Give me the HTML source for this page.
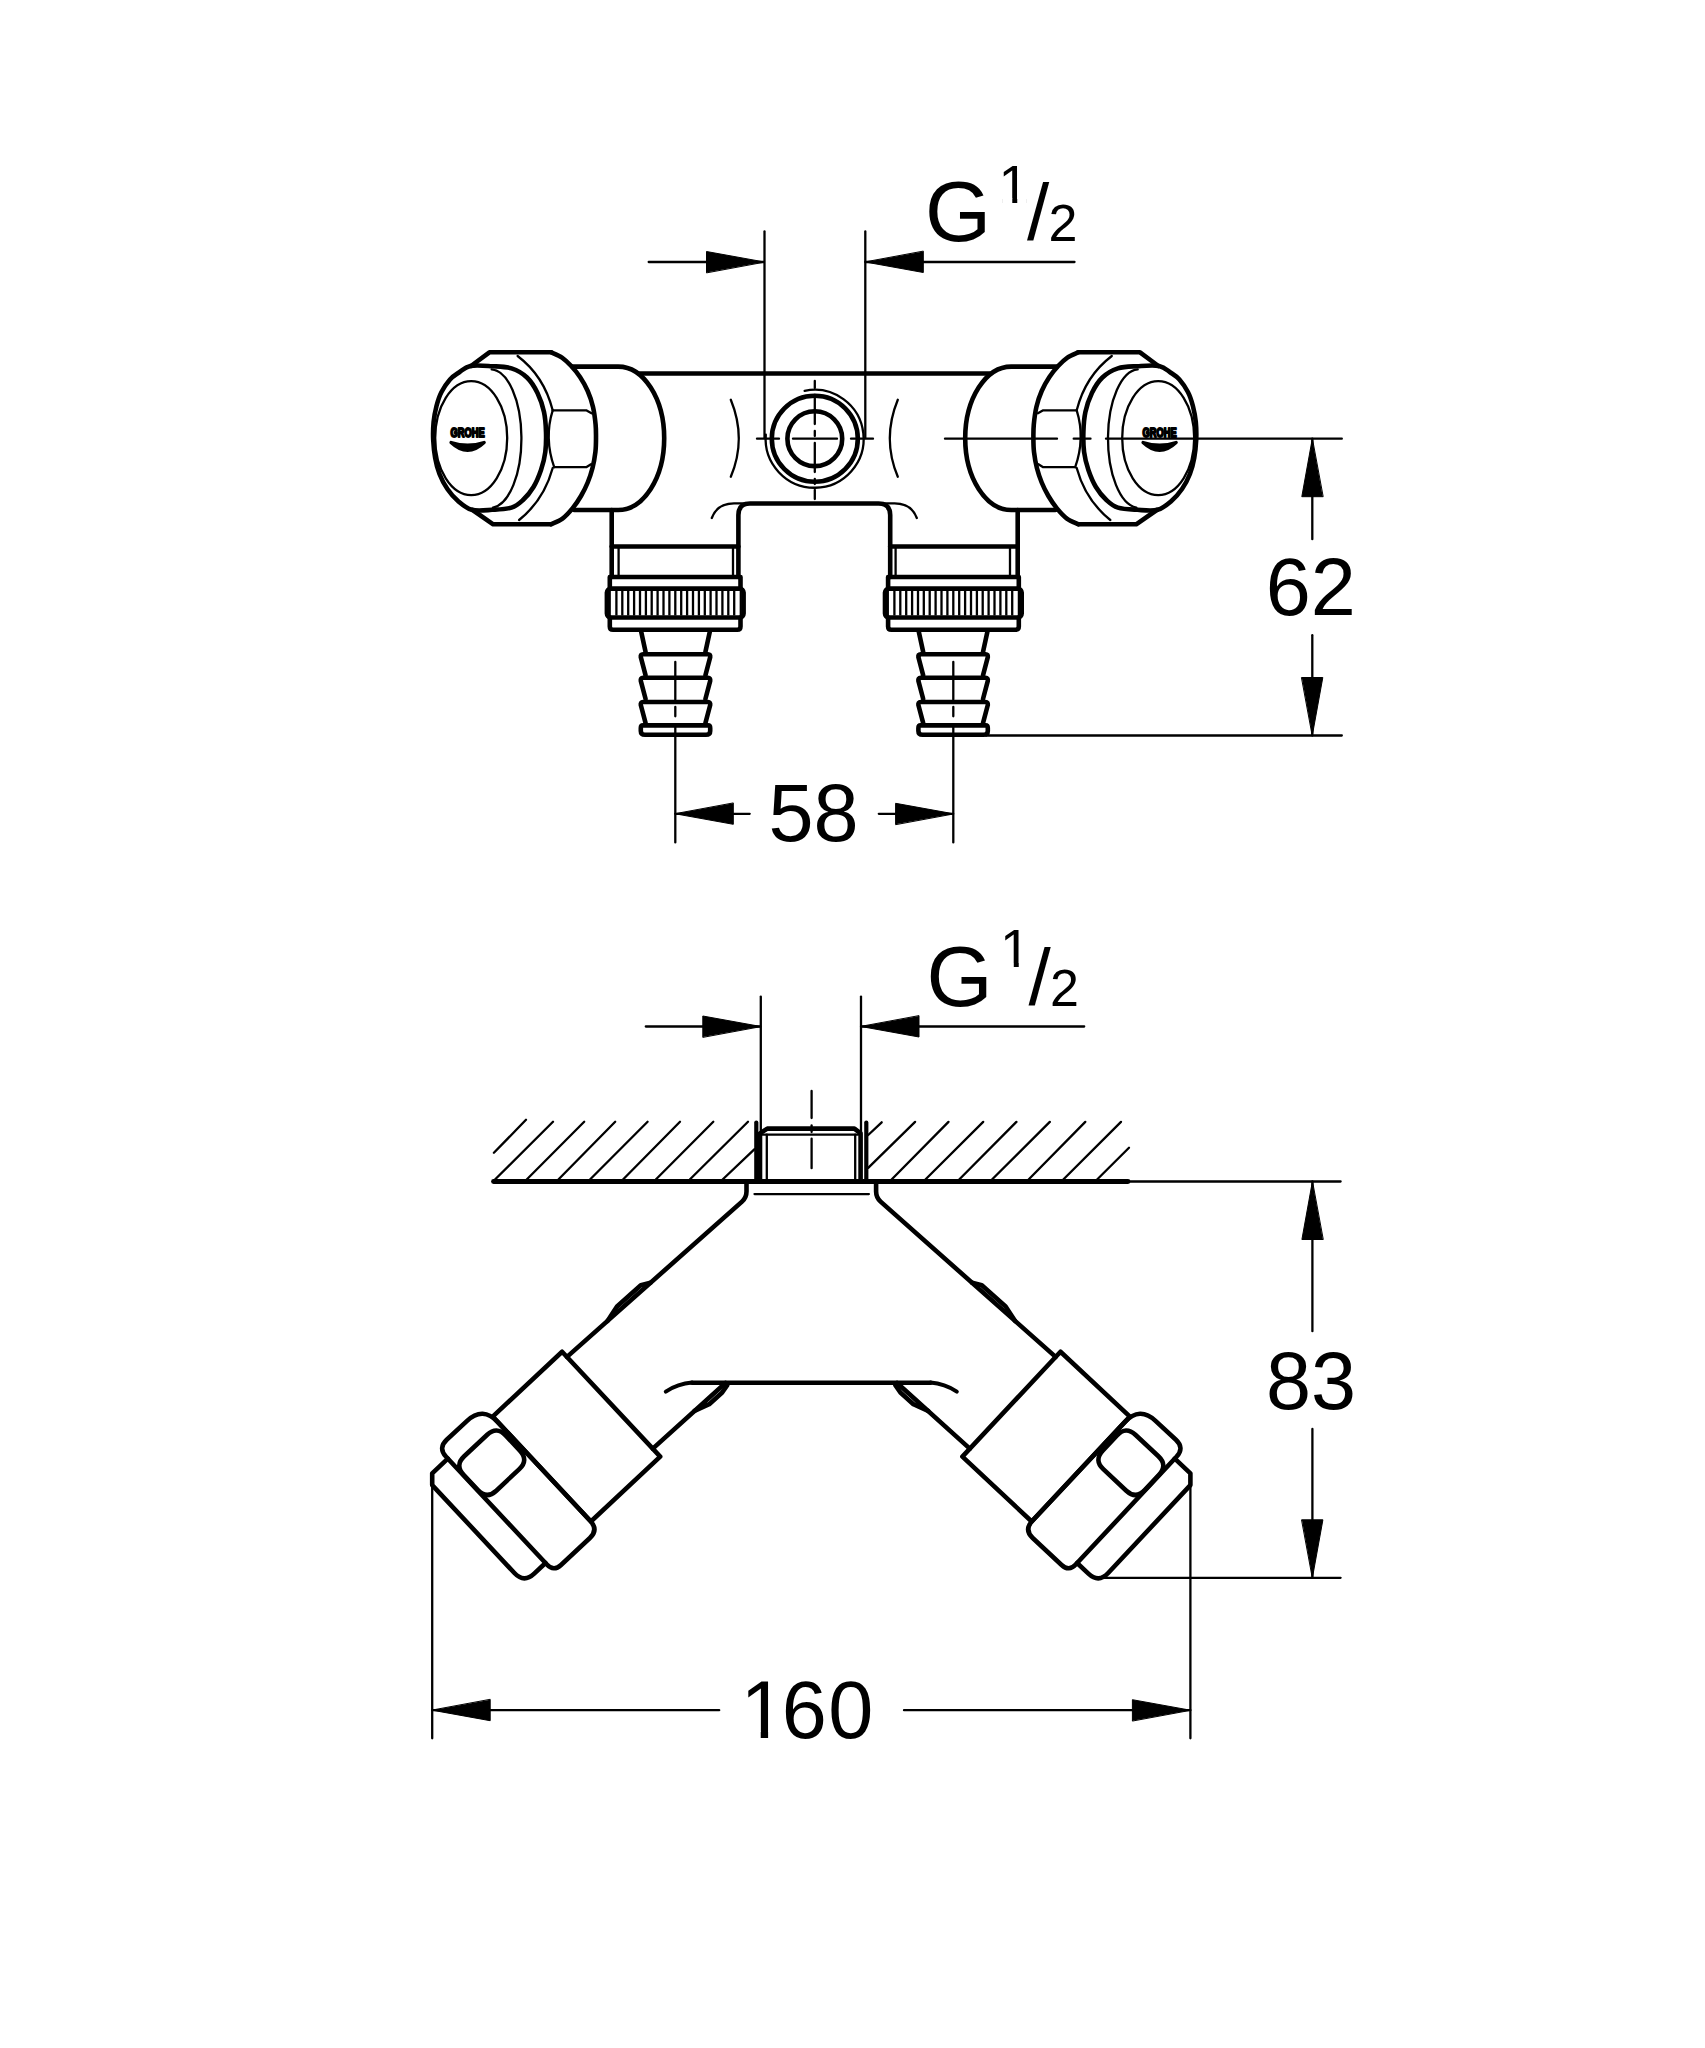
<!DOCTYPE html>
<html><head><meta charset="utf-8"><title>Drawing</title>
<style>
html,body{margin:0;padding:0;background:#fff;}
svg{display:block;}
svg *{vector-effect:none;}
text{font-family:"Liberation Sans",sans-serif;}
</style></head><body>
<svg width="1705" height="2048" viewBox="0 0 1705 2048" fill="none" stroke="#000" stroke-linecap="round" stroke-linejoin="round">
<rect x="0" y="0" width="1705" height="2048" fill="#fff" stroke="none"/>
<g id="tl">
<path d="M470.3 366.0 C475.8 364.9 485.1 365.8 492.0 366.2 C498.9 366.6 505.7 366.5 511.5 368.4 C517.3 370.3 522.7 373.4 527.0 377.5 C531.3 381.6 534.7 387.2 537.5 393.0 C540.3 398.8 542.6 405.5 544.0 412.0 C545.4 418.5 545.8 425.3 546.0 432.0 C546.2 438.7 546.1 445.7 545.3 452.0 C544.5 458.3 543.0 464.2 541.0 470.0 C539.0 475.8 536.5 482.0 533.5 487.0 C530.5 492.0 526.7 496.6 523.0 500.0 C519.3 503.4 516.7 506.0 511.5 507.6 C506.3 509.2 498.6 509.4 492.0 509.8 C485.4 510.2 477.5 511.3 471.8 509.8 C466.1 508.3 462.1 504.5 458.0 501.0 C453.9 497.5 450.5 493.5 447.4 489.0 C444.3 484.5 441.5 479.2 439.5 474.0 C437.5 468.8 436.2 463.7 435.2 458.0 C434.1 452.3 433.5 446.0 433.2 440.0 C432.9 434.0 433.1 427.7 433.6 422.0 C434.2 416.3 435.2 411.0 436.5 406.0 C437.8 401.0 439.2 396.4 441.5 392.0 C443.8 387.6 447.1 382.8 450.0 379.5 C452.9 376.2 455.6 374.8 459.0 372.5 C462.4 370.2 464.8 367.1 470.3 366.0Z" stroke-width="4.6" />
<ellipse cx="471.2" cy="438.1" rx="36" ry="57" stroke-width="2.3"/>
<path d="M491.7 369.3 A31 69.3 0 0 1 493 507.6" stroke-width="2.3" />
<path d="M471 366 L489.4 352.3 H551.1" stroke-width="4.6" />
<path d="M551.1 352.3 C552.9 353.2 558.7 355.4 562.0 357.6 C565.3 359.9 568.0 362.6 571.0 365.8 C574.0 369.0 577.2 372.8 580.0 377.0 C582.8 381.2 585.5 386.0 587.7 391.0 C589.9 396.0 591.7 401.4 593.0 407.0 C594.3 412.6 595.1 419.3 595.6 424.5 C596.1 429.7 596.0 433.4 596.0 438.0 C596.0 442.6 596.0 447.0 595.4 452.0 C594.8 457.0 593.8 462.9 592.5 468.0 C591.2 473.1 589.6 477.8 587.7 482.5 C585.8 487.2 583.5 491.7 581.0 496.0 C578.5 500.3 575.6 504.6 572.5 508.4 C569.4 512.2 566.1 516.0 562.5 518.6 C558.9 521.2 553.0 523.3 551.1 524.3" stroke-width="4.6" />
<path d="M551.1 524.3 H493.2 L472.6 510" stroke-width="4.6" />
<path d="M517.6 356 Q544 376 552.7 410.3" stroke-width="2.3" />
<path d="M552.7 468 Q544 500 519.1 520" stroke-width="2.3" />
<path d="M552.7 410.3 H586.2 L591.5 413.3" stroke-width="2.3" />
<path d="M554.2 467.2 H586.2 L591 464.2" stroke-width="2.3" />
<path d="M552.7 410.3 Q544 438 554.2 467.2" stroke-width="2.3" />
<path d="M572.5 366.6 H618.2 A46 71.7 0 0 1 618.2 510 H574" stroke-width="4.6" />
<path d="M611.7 510 V577" stroke-width="4.6" />
</g>
<use href="#tl" transform="translate(1629.4,0) scale(-1,1)"/>
<g id="to">
<line x1="611.7" y1="546.5" x2="738.4" y2="546.5" stroke-width="4.6" />
<line x1="618.6" y1="546.5" x2="618.6" y2="577.0" stroke-width="2.3" />
<line x1="733.0" y1="546.5" x2="733.0" y2="577.0" stroke-width="2.3" />
<path d="M609.8 588.5 V577 H740.5 V588.5" stroke-width="4.6" />
<rect x="606.9" y="588.6" width="136.7" height="28.9" rx="4" stroke-width="4.6"/>
<line x1="609.7" y1="590.0" x2="609.7" y2="616.0" stroke-width="2.3" stroke-linecap="butt"/>
<line x1="740.8" y1="590.0" x2="740.8" y2="616.0" stroke-width="2.3" stroke-linecap="butt"/>
<line x1="616.4" y1="591.0" x2="616.4" y2="615.5" stroke-width="2.3" stroke-linecap="butt"/>
<line x1="622.3" y1="591.0" x2="622.3" y2="615.5" stroke-width="2.3" stroke-linecap="butt"/>
<line x1="628.2" y1="591.0" x2="628.2" y2="615.5" stroke-width="2.3" stroke-linecap="butt"/>
<line x1="634.1" y1="591.0" x2="634.1" y2="615.5" stroke-width="2.3" stroke-linecap="butt"/>
<line x1="640.0" y1="591.0" x2="640.0" y2="615.5" stroke-width="2.3" stroke-linecap="butt"/>
<line x1="645.9" y1="591.0" x2="645.9" y2="615.5" stroke-width="2.3" stroke-linecap="butt"/>
<line x1="651.7" y1="591.0" x2="651.7" y2="615.5" stroke-width="2.3" stroke-linecap="butt"/>
<line x1="657.6" y1="591.0" x2="657.6" y2="615.5" stroke-width="2.3" stroke-linecap="butt"/>
<line x1="663.5" y1="591.0" x2="663.5" y2="615.5" stroke-width="2.3" stroke-linecap="butt"/>
<line x1="669.4" y1="591.0" x2="669.4" y2="615.5" stroke-width="2.3" stroke-linecap="butt"/>
<line x1="675.3" y1="591.0" x2="675.3" y2="615.5" stroke-width="2.3" stroke-linecap="butt"/>
<line x1="681.2" y1="591.0" x2="681.2" y2="615.5" stroke-width="2.3" stroke-linecap="butt"/>
<line x1="687.1" y1="591.0" x2="687.1" y2="615.5" stroke-width="2.3" stroke-linecap="butt"/>
<line x1="693.0" y1="591.0" x2="693.0" y2="615.5" stroke-width="2.3" stroke-linecap="butt"/>
<line x1="698.9" y1="591.0" x2="698.9" y2="615.5" stroke-width="2.3" stroke-linecap="butt"/>
<line x1="704.8" y1="591.0" x2="704.8" y2="615.5" stroke-width="2.3" stroke-linecap="butt"/>
<line x1="710.6" y1="591.0" x2="710.6" y2="615.5" stroke-width="2.3" stroke-linecap="butt"/>
<line x1="716.5" y1="591.0" x2="716.5" y2="615.5" stroke-width="2.3" stroke-linecap="butt"/>
<line x1="722.4" y1="591.0" x2="722.4" y2="615.5" stroke-width="2.3" stroke-linecap="butt"/>
<line x1="728.3" y1="591.0" x2="728.3" y2="615.5" stroke-width="2.3" stroke-linecap="butt"/>
<line x1="734.2" y1="591.0" x2="734.2" y2="615.5" stroke-width="2.3" stroke-linecap="butt"/>
<path d="M609.8 617.5 V626.5 Q609.8 629.7 613 629.7 H737.3 Q740.5 629.7 740.5 626.5 V617.5" stroke-width="4.6" />
<path d="M641.2 631.8 L645.6 652" stroke-width="4.6" />
<path d="M709.8 631.8 L705.4 652" stroke-width="4.6" />
<path d="M645.6 675.4 L640.8 657.2 Q640.4 654.2 643 654.2 H708 Q710.6 654.2 710.2 657.2 L705.4 675.4" stroke-width="4.6" />
<path d="M645.6 699.0 L640.8 680.8 Q640.4 677.8 643 677.8 H708 Q710.6 677.8 710.2 680.8 L705.4 699.0" stroke-width="4.6" />
<path d="M645.6 723.2 L640.8 705.0 Q640.4 702 643 702 H708 Q710.6 702 710.2 705.0 L705.4 723.2" stroke-width="4.6" />
<path d="M643 725.4 H708 Q710.2 725.4 710.2 728 V731 Q710.2 734.8 706 734.8 H645 Q640.8 734.8 640.8 731 V728 Q640.8 725.4 643 725.4Z" stroke-width="4.6" />
<line x1="675.3" y1="662.0" x2="675.3" y2="699.4" stroke-width="2.3" />
<line x1="675.3" y1="707.0" x2="675.3" y2="716.3" stroke-width="2.3" />
<line x1="675.3" y1="726.0" x2="675.3" y2="842.4" stroke-width="2.3" />
<path d="M730.8 399.7 Q746.8 438.7 730.8 476.7" stroke-width="2.3" />
<path d="M711.8 518 Q717 503.6 734 503.4 L751 503.4" stroke-width="2.3" />
</g>
<use href="#to" transform="translate(1628.6,0) scale(-1,1)"/>
<line x1="639.6" y1="373.5" x2="989.8" y2="373.5" stroke-width="4.6" />
<path d="M738.4 577 V515 Q738.4 503.5 750 503.5 H878.6 Q890.2 503.5 890.2 515 V577" stroke-width="4.6" />
<circle cx="814.8" cy="438.7" r="43" stroke-width="4.6"/>
<circle cx="814.8" cy="438.7" r="27.4" stroke-width="4.6"/>
<path d="M804.6 390.8 A49 49 0 1 1 765.8 434.7" stroke-width="2.3" />
<line x1="757.0" y1="438.7" x2="779.0" y2="438.7" stroke-width="2.3" />
<line x1="793.0" y1="438.7" x2="837.0" y2="438.7" stroke-width="2.3" />
<line x1="851.0" y1="438.7" x2="873.0" y2="438.7" stroke-width="2.3" />
<line x1="814.8" y1="381.0" x2="814.8" y2="388.0" stroke-width="2.3" />
<line x1="814.8" y1="395.0" x2="814.8" y2="424.0" stroke-width="2.3" />
<line x1="814.8" y1="431.0" x2="814.8" y2="436.0" stroke-width="2.3" />
<line x1="814.8" y1="443.0" x2="814.8" y2="472.0" stroke-width="2.3" />
<line x1="814.8" y1="479.0" x2="814.8" y2="484.0" stroke-width="2.3" />
<line x1="814.8" y1="490.0" x2="814.8" y2="499.0" stroke-width="2.3" />
<line x1="764.5" y1="231.5" x2="764.5" y2="438.0" stroke-width="2.3" />
<line x1="865.3" y1="231.5" x2="865.3" y2="438.0" stroke-width="2.3" />
<line x1="648.7" y1="262.0" x2="764.0" y2="262.0" stroke-width="2.3" />
<polygon points="764.5,262.0 706.5,251.5 706.5,272.5" fill="#000" stroke="#000" stroke-width="1"/>
<line x1="865.3" y1="262.0" x2="1074.5" y2="262.0" stroke-width="2.3" />
<polygon points="865.3,262.0 923.3,272.5 923.3,251.5" fill="#000" stroke="#000" stroke-width="1"/>
<clipPath id="cg1"><rect x="900" y="150.00" width="200" height="48.13"/><rect x="1026.60" y="150.00" width="80" height="110"/><rect x="900" y="150.00" width="102.2" height="110"/><rect x="1012.28" y="197.15" width="4.96" height="6.00"/></clipPath>
<text stroke="none" fill="#000" clip-path="url(#cg1)"><tspan x="925.0" y="240.8" font-size="85">G </tspan><tspan x="998.6" y="202.6" font-size="54.5">1</tspan><tspan x="1027.0" y="240.4" font-size="80">/</tspan><tspan x="1048.5" y="241.4" font-size="52">2</tspan></text>
<line x1="945.0" y1="438.7" x2="1057.0" y2="438.7" stroke-width="2.3" />
<line x1="1073.7" y1="438.7" x2="1090.5" y2="438.7" stroke-width="2.3" />
<line x1="1106.0" y1="438.7" x2="1341.8" y2="438.7" stroke-width="2.3" />
<line x1="1312.3" y1="438.7" x2="1312.3" y2="539.2" stroke-width="2.3" />
<polygon points="1312.3,438.7 1301.8,496.7 1322.8,496.7" fill="#000" stroke="#000" stroke-width="1"/>
<line x1="1312.3" y1="635.2" x2="1312.3" y2="735.5" stroke-width="2.3" />
<polygon points="1312.3,735.5 1322.8,677.5 1301.8,677.5" fill="#000" stroke="#000" stroke-width="1"/>
<line x1="986.0" y1="735.5" x2="1341.8" y2="735.5" stroke-width="2.3" />
<text x="1310.7" y="615" font-size="81" text-anchor="middle" stroke="none" fill="#000">62</text>
<line x1="675.3" y1="813.8" x2="749.7" y2="813.8" stroke-width="2.3" />
<polygon points="675.3,813.8 733.3,824.3 733.3,803.3" fill="#000" stroke="#000" stroke-width="1"/>
<line x1="878.8" y1="813.8" x2="953.2" y2="813.8" stroke-width="2.3" />
<polygon points="953.6,813.8 895.6,803.3 895.6,824.3" fill="#000" stroke="#000" stroke-width="1"/>
<text x="813.5" y="841.4" font-size="81" text-anchor="middle" stroke="none" fill="#000">58</text>
<text x="467.6" y="437.2" font-size="12" font-weight="bold" text-anchor="middle" stroke="#000" stroke-width="1.8" fill="#000" textLength="34" lengthAdjust="spacingAndGlyphs">GROHE</text>
<path d="M451.1 442.5 Q467.6 458 484.1 442.5 Q467.6 448 451.1 442.5Z" fill="#000" stroke="#000" stroke-width="3.4"/>
<text x="1159.6" y="437.2" font-size="12" font-weight="bold" text-anchor="middle" stroke="#000" stroke-width="1.8" fill="#000" textLength="34" lengthAdjust="spacingAndGlyphs">GROHE</text>
<path d="M1143.1 442.5 Q1159.6 458 1176.1 442.5 Q1159.6 448 1143.1 442.5Z" fill="#000" stroke="#000" stroke-width="3.4"/>
<g id="bl">
<path d="M562.1 1351.7 L492.7 1416.6 Q492.7 1416.6 492.7 1416.6 L590.9 1521.5 Q590.9 1521.5 590.9 1521.5 L660.2 1456.6 Q660.2 1456.6 660.2 1456.6 L562.1 1351.7 Q562.1 1351.7 562.1 1351.7Z" stroke-width="4.6" />
<path d="M466.8 1421.1 L446.7 1439.8 Q437.9 1448.0 446.1 1456.8 L546.9 1564.5 Q553.7 1571.8 561.0 1565.0 L589.9 1538.0 Q598.6 1529.8 590.4 1521.0 L497.9 1422.1 Q482.8 1406.0 466.8 1421.1Z" stroke-width="4.6" />
<path d="M487.2 1434.8 L464.2 1456.3 Q454.7 1465.2 463.6 1474.7 L477.9 1490.1 Q486.8 1499.5 496.3 1490.7 L519.3 1469.1 Q528.8 1460.3 519.9 1450.8 L505.6 1435.4 Q496.7 1425.9 487.2 1434.8Z" stroke-width="4.6" />
<path d="M447.8 1458.6 L432.2 1473.3 L432.2 1485.1 L514.4 1573.0 Q524.0 1583.2 534.2 1573.6 L545.5 1563.0" stroke-width="4.6" />
<path d="M746.5 1181.5 V1191.5 Q746.5 1197.5 742 1201.6 L567 1356.9" stroke-width="4.6" />
<path d="M725.5 1383 L652.8 1448.6" stroke-width="4.6" />
<path d="M692 1382.6 Q678 1383.6 665.8 1391.7" stroke-width="4.0" />
<path d="M607.5 1321 L617 1306.5 L640.8 1285.3 L650.5 1282.8" stroke-width="4.6" />
<path d="M694.5 1410.9 L709.2 1404.2 L722.2 1392.5 L727.4 1385" stroke-width="4.6" />
<line x1="432.2" y1="1474.7" x2="432.2" y2="1738.3" stroke-width="2.3" />
<line x1="756.3" y1="1122.5" x2="756.3" y2="1181.0" stroke-width="4.2" />
</g>
<use href="#bl" transform="translate(1622.6,0) scale(-1,1)"/>
<line x1="493.5" y1="1181.5" x2="1128.0" y2="1181.5" stroke-width="4.8" />
<line x1="1128.0" y1="1181.5" x2="1340.6" y2="1181.5" stroke-width="2.3" />
<line x1="493.9" y1="1152.8" x2="526.0" y2="1119.8" stroke-width="2.3" />
<line x1="495.0" y1="1179.5" x2="553.0" y2="1121.8" stroke-width="2.3" />
<line x1="526.7" y1="1179.5" x2="584.2" y2="1121.8" stroke-width="2.3" />
<line x1="558.4" y1="1179.5" x2="615.2" y2="1121.8" stroke-width="2.3" />
<line x1="590.0" y1="1179.5" x2="647.6" y2="1121.8" stroke-width="2.3" />
<line x1="623.0" y1="1179.5" x2="680.0" y2="1121.8" stroke-width="2.3" />
<line x1="655.8" y1="1179.5" x2="713.3" y2="1121.8" stroke-width="2.3" />
<line x1="689.8" y1="1179.5" x2="748.0" y2="1121.8" stroke-width="2.3" />
<line x1="722.6" y1="1179.5" x2="754.3" y2="1149.3" stroke-width="2.3" />
<line x1="868.2" y1="1135.0" x2="881.7" y2="1122.3" stroke-width="2.3" />
<line x1="868.2" y1="1167.9" x2="915.1" y2="1121.9" stroke-width="2.3" />
<line x1="891.6" y1="1179.5" x2="948.5" y2="1121.9" stroke-width="2.3" />
<line x1="925.4" y1="1179.5" x2="983.2" y2="1121.9" stroke-width="2.3" />
<line x1="959.2" y1="1179.5" x2="1016.4" y2="1121.9" stroke-width="2.3" />
<line x1="992.0" y1="1179.5" x2="1049.8" y2="1121.9" stroke-width="2.3" />
<line x1="1028.6" y1="1179.5" x2="1085.3" y2="1121.9" stroke-width="2.3" />
<line x1="1063.3" y1="1179.5" x2="1121.0" y2="1121.9" stroke-width="2.3" />
<line x1="1097.1" y1="1179.5" x2="1129.0" y2="1147.8" stroke-width="2.3" />
<path d="M760 1181 V1133.4 L767.3 1128.6 H854.4 L860.6 1133.4 V1181" stroke-width="4.6" />
<line x1="762.0" y1="1134.7" x2="858.0" y2="1134.7" stroke-width="2.3" />
<line x1="766.8" y1="1134.7" x2="766.8" y2="1181.0" stroke-width="2.3" />
<line x1="855.2" y1="1134.7" x2="855.2" y2="1181.0" stroke-width="2.3" />
<line x1="754.5" y1="1194.1" x2="868.9" y2="1194.1" stroke-width="2.3" />
<line x1="811.6" y1="1091.0" x2="811.6" y2="1118.0" stroke-width="2.3" />
<line x1="811.6" y1="1125.5" x2="811.6" y2="1132.0" stroke-width="2.3" />
<line x1="811.6" y1="1138.7" x2="811.6" y2="1168.2" stroke-width="2.3" />
<line x1="692.0" y1="1382.7" x2="930.6" y2="1382.7" stroke-width="4.6" />
<line x1="760.8" y1="996.6" x2="760.8" y2="1133.0" stroke-width="2.3" />
<line x1="861.0" y1="996.6" x2="861.0" y2="1133.0" stroke-width="2.3" />
<line x1="645.8" y1="1026.5" x2="760.0" y2="1026.5" stroke-width="2.3" />
<polygon points="760.8,1026.5 702.8,1016.0 702.8,1037.0" fill="#000" stroke="#000" stroke-width="1"/>
<line x1="861.0" y1="1026.5" x2="1084.2" y2="1026.5" stroke-width="2.3" />
<polygon points="861.0,1026.5 919.0,1037.0 919.0,1016.0" fill="#000" stroke="#000" stroke-width="1"/>
<clipPath id="cg2"><rect x="901.5" y="914.80" width="200" height="48.13"/><rect x="1028.10" y="914.80" width="80" height="110"/><rect x="901.5" y="914.80" width="102.2" height="110"/><rect x="1013.78" y="961.95" width="4.96" height="6.00"/></clipPath>
<text stroke="none" fill="#000" clip-path="url(#cg2)"><tspan x="926.5" y="1005.6" font-size="85">G </tspan><tspan x="1000.1" y="967.4" font-size="54.5">1</tspan><tspan x="1028.5" y="1005.2" font-size="80">/</tspan><tspan x="1050.0" y="1006.2" font-size="52">2</tspan></text>
<line x1="1312.4" y1="1181.5" x2="1312.4" y2="1331.2" stroke-width="2.3" />
<polygon points="1312.4,1181.5 1301.9,1239.5 1322.9,1239.5" fill="#000" stroke="#000" stroke-width="1"/>
<line x1="1312.4" y1="1428.9" x2="1312.4" y2="1577.5" stroke-width="2.3" />
<polygon points="1312.4,1577.8 1322.9,1519.8 1301.9,1519.8" fill="#000" stroke="#000" stroke-width="1"/>
<line x1="1094.3" y1="1577.8" x2="1340.6" y2="1577.8" stroke-width="2.3" />
<text x="1311" y="1409.3" font-size="81" text-anchor="middle" stroke="none" fill="#000">83</text>
<line x1="432.2" y1="1710.2" x2="719.2" y2="1710.2" stroke-width="2.3" />
<polygon points="432.2,1710.2 490.2,1720.7 490.2,1699.7" fill="#000" stroke="#000" stroke-width="1"/>
<line x1="904.0" y1="1710.2" x2="1190.4" y2="1710.2" stroke-width="2.3" />
<polygon points="1190.4,1710.2 1132.4,1699.7 1132.4,1720.7" fill="#000" stroke="#000" stroke-width="1"/>
<clipPath id="c160"><rect x="730" y="1650" width="160" height="81.56"/><rect x="783" y="1650" width="110" height="110"/><rect x="760.73" y="1730.10" width="7.37" height="8.91"/></clipPath>
<text x="740.4 781.8 828.2" y="1738.2" font-size="81" stroke="none" fill="#000" clip-path="url(#c160)">160</text>
</svg>
</body></html>
